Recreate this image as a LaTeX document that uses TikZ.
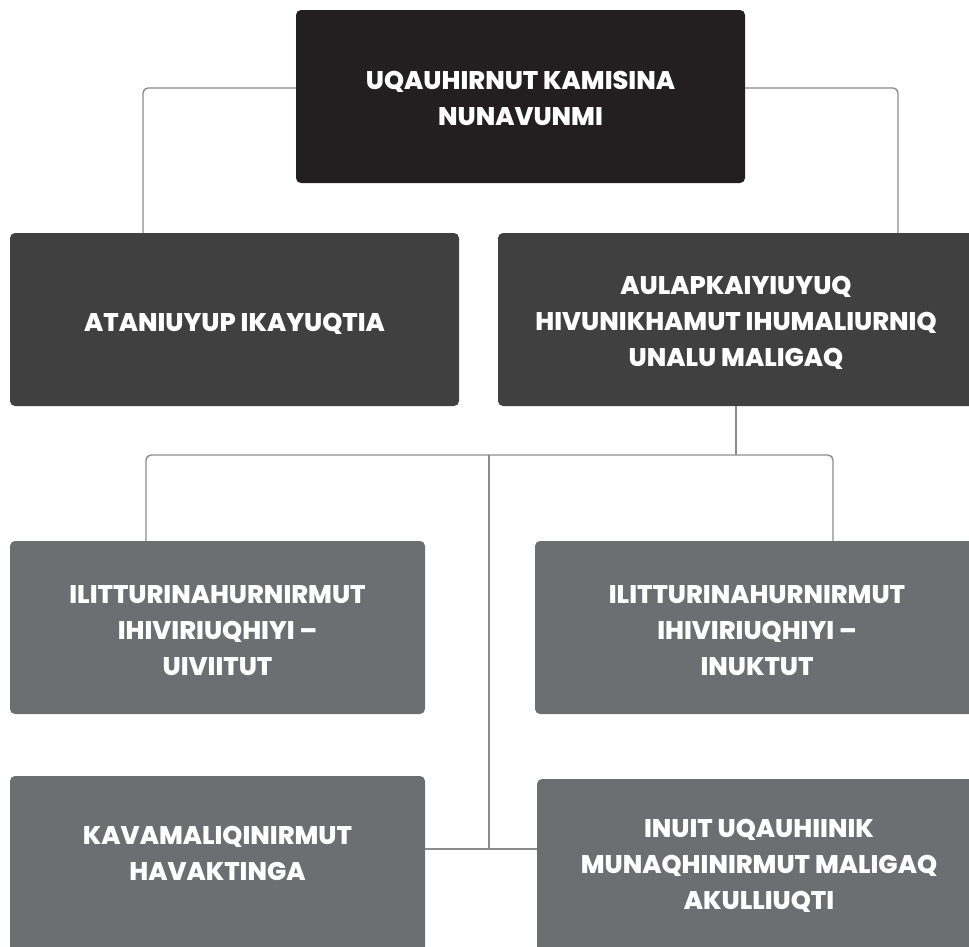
\documentclass[tikz,border=0pt]{standalone}
\usepackage{fontspec}
\setmainfont{Poppins}[BoldFont={* ExtraBold}]
\definecolor{cTop}{HTML}{231F20}
\definecolor{cMid}{HTML}{404040}
\definecolor{cLow}{HTML}{6D6E71}
\definecolor{cLine}{HTML}{8C8C8C}
\tikzset{
  box/.style={rectangle, rounded corners=5pt, inner sep=0pt, outer sep=0pt, draw=none},
  lbl/.style={text=white, align=center, inner sep=0pt, font=\fontsize{25.5}{36}\selectfont\bfseries},
  conn/.style={draw=cLine, line width=1.4pt, rounded corners=5pt}
}
\begin{document}
\begin{tikzpicture}[x=1pt, y=-1pt]
\useasboundingbox (0,0) rectangle (969,946);
\clip (0,0) rectangle (969,946);
% boxes
\node[box, fill=cTop, minimum width=449pt, minimum height=173pt] (top) at (520.5,96.5) {};
\node[box, fill=cMid, minimum width=449pt, minimum height=173pt] (ata) at (234.5,319.5) {};
\node[box, fill=cMid, minimum width=500pt, minimum height=173pt] (aul) at (748,319.5) {};
\node[box, fill=cLow, minimum width=415pt, minimum height=173pt] (il1) at (217.5,627.5) {};
\node[box, fill=cLow, minimum width=470pt, minimum height=173pt] (il2) at (770,627.5) {};
\node[box, fill=cLow, minimum width=415pt, minimum height=200pt] (kav) at (217.5,876) {};
\node[box, fill=cLow, minimum width=470pt, minimum height=200pt] (inu) at (772,879) {};
% texts
\node[lbl] (topT) at (520.5,98.5) {UQAUHIRNUT KAMISINA\\NUNAVUNMI};
\node[lbl] (ataT) at (234.5,324) {ATANIUYUP IKAYUQTIA};
\node[lbl] (aulT) at (736,323) {AULAPKAIYIUYUQ\\HIVUNIKHAMUT IHUMALIURNIQ\\UNALU MALIGAQ};
\node[lbl] (il1T) at (217.5,631) {ILITTURINAHURNIRMUT\\IHIVIRIUQHIYI –\\UIVIITUT};
\node[lbl] (il2T) at (757,631) {ILITTURINAHURNIRMUT\\IHIVIRIUQHIYI –\\INUKTUT};
\node[lbl] (kavT) at (217.5,853) {KAVAMALIQINIRMUT\\HAVAKTINGA};
\node[lbl] (inuT) at (759,866) {INUIT UQAUHIINIK\\MUNAQHINIRMUT MALIGAQ\\AKULLIUQTI};
% connectors
\coordinate (bus) at (489,455);
\coordinate (junc) at (489,849);
\coordinate (tl) at (143,233);
\coordinate (tr) at (898,233);
\coordinate (bl) at (146,541);
\coordinate (br) at (833,541);
\draw[conn] ([yshift=8.5pt]top.west) -| (tl);
\draw[conn] ([yshift=8.5pt]top.east) -| (tr);
\draw[conn] (aulT.center |- aul.south) -- (aulT.center |- bus);
\draw[conn] (bl) |- (bus) -| (br);
\draw[conn] (bus) -- (junc);
\draw[conn] (kav.east |- junc) -- (inu.west |- junc);
\end{tikzpicture}
\end{document}
